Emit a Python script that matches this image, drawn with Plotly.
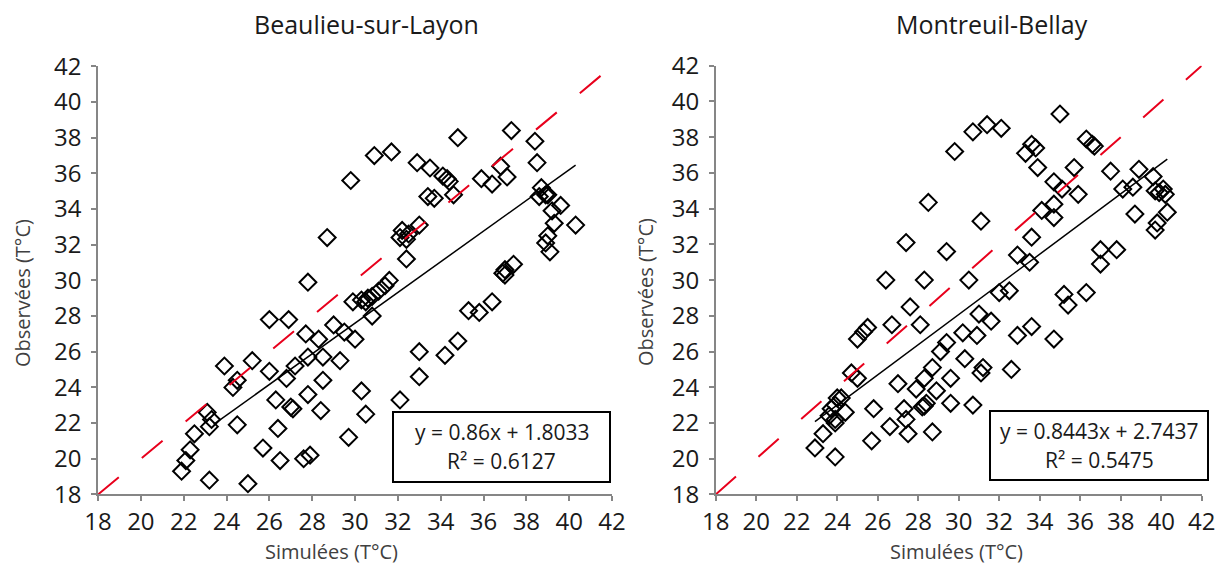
import plotly.graph_objects as go

# Beaulieu-sur-Layon: simulated (x) vs observed (y), deg C
beaulieu_sim = [
    21.9, 22.1, 22.3, 22.5, 23.1, 23.3, 23.2, 23.2, 23.9, 24.3, 24.5, 24.5,
    25.0, 25.2, 25.7, 26.0, 26.0, 26.3, 26.4, 26.5, 26.8, 26.9, 27.0, 27.1,
    27.2, 27.6, 27.9, 27.7, 27.8, 27.8, 27.8, 28.3, 28.4, 28.5, 28.5, 28.7,
    29.0, 29.3, 29.5, 29.7, 29.8, 29.9, 30.0, 30.3, 30.3, 30.5, 30.6, 30.8,
    30.5, 30.8, 30.9, 31.1, 31.4, 31.6, 31.7, 32.1, 32.1, 32.2, 32.4, 32.5,
    32.4, 32.9, 33.0, 33.0, 33.0, 33.4, 33.5, 33.7, 34.2, 34.1, 34.3, 34.4,
    34.6, 34.8, 34.8, 35.3, 35.8, 35.9, 36.4, 36.4, 36.8, 36.9, 37.0, 37.0,
    37.1, 37.3, 37.4, 38.4, 38.5, 38.6, 38.7, 38.9, 39.0, 39.0, 38.9, 39.1,
    39.2, 39.3, 39.6, 40.3,
]
beaulieu_obs = [
    19.3, 19.9, 20.5, 21.4, 22.6, 22.2, 21.8, 18.8, 25.2, 24.0, 24.4, 21.9,
    18.6, 25.5, 20.6, 27.8, 24.9, 23.3, 21.7, 19.9, 24.5, 27.8, 22.9, 22.8,
    25.2, 20.0, 20.2, 27.0, 29.9, 25.7, 23.6, 26.7, 22.7, 25.7, 24.4, 32.4,
    27.5, 25.5, 27.1, 21.2, 35.6, 28.8, 26.7, 23.8, 28.9, 28.8, 29.0, 29.1,
    22.5, 28.0, 37.0, 29.4, 29.7, 30.0, 37.2, 23.3, 32.4, 32.8, 31.2, 32.6,
    32.3, 36.6, 24.6, 26.0, 33.1, 34.7, 36.3, 34.6, 25.8, 35.85, 35.7, 35.55,
    34.8, 38.0, 26.6, 28.3, 28.2, 35.7, 35.4, 28.8, 36.4, 30.4, 30.3, 30.6,
    35.8, 38.4, 30.9, 37.8, 36.6, 34.7, 35.2, 34.8, 34.8, 32.5, 32.1, 31.6,
    33.9, 33.2, 34.2, 33.1,
]

# Montreuil-Bellay
montreuil_sim = [
    22.9, 23.3, 23.9, 23.6, 23.7, 23.9, 24.0, 24.2, 23.9, 24.4, 23.9, 24.7,
    25.0, 25.0, 25.3, 25.5, 25.7, 25.8, 26.4, 26.6, 26.7, 27.0, 27.3, 27.4,
    27.5, 27.4, 27.6, 27.9, 28.1, 28.3, 28.2, 28.4, 28.3, 28.3, 28.5, 28.7,
    28.7, 28.9, 29.1, 29.4, 29.4, 29.6, 29.6, 29.8, 30.2, 30.3, 30.5, 30.7,
    30.7, 30.9, 31.1, 31.2, 31.1, 31.0, 31.4, 31.6, 32.0, 32.1, 32.5, 32.6,
    32.9, 32.9, 33.3, 33.6, 33.8, 33.5, 33.6, 33.6, 33.9, 34.1, 34.7, 34.7,
    34.7, 34.7, 35.0, 35.1, 35.2, 35.4, 35.7, 35.9, 36.3, 36.6, 36.7, 36.3,
    37.0, 37.0, 37.5, 37.8, 38.1, 38.6, 38.7, 38.9, 39.6, 39.7, 39.7, 39.8,
    40.1, 40.2, 40.3, 39.9,
]
montreuil_obs = [
    20.6, 21.4, 20.1, 22.4, 22.8, 23.0, 23.4, 23.4, 22.2, 22.6, 22.0, 24.8,
    24.5, 26.7, 27.1, 27.35, 21.0, 22.8, 30.0, 21.8, 27.5, 24.2, 22.8, 22.2,
    21.4, 32.1, 28.5, 23.9, 27.5, 30.0, 22.9, 23.1, 22.95, 24.5, 34.35, 25.1,
    21.5, 23.8, 26.0, 26.5, 31.6, 23.1, 24.5, 37.2, 27.05, 25.6, 30.0, 23.0,
    38.3, 26.9, 24.8, 25.1, 33.3, 28.1, 38.7, 27.7, 29.3, 38.5, 29.4, 25.0,
    31.4, 26.9, 37.1, 37.6, 37.4, 31.0, 32.4, 27.4, 36.3, 33.9, 35.5, 34.25,
    33.5, 26.7, 39.3, 35.1, 29.2, 28.6, 36.3, 34.8, 37.9, 37.6, 37.5, 29.3,
    31.7, 30.9, 36.1, 31.7, 35.1, 35.2, 33.7, 36.2, 35.8, 35.0, 32.8, 33.2,
    35.1, 34.8, 33.8, 34.9,
]

# Excel linear trendlines (as printed on the chart)
beaulieu_fit = (0.86, 1.8033, 0.6127)
montreuil_fit = (0.8443, 2.7437, 0.5475)
beaulieu_fit_x = [23.4, 40.3]
montreuil_fit_x = [22.9, 40.3]
one_to_one = [18, 42]

ticks = list(range(18, 43, 2))

fig = go.Figure()

panels = [
    ("x", "y", beaulieu_sim, beaulieu_obs, beaulieu_fit, beaulieu_fit_x),
    ("x2", "y2", montreuil_sim, montreuil_obs, montreuil_fit, montreuil_fit_x),
]
for xa, ya, sim, obs, fit, fit_x in panels:
    fig.add_trace(go.Scatter(
        x=sim, y=obs, xaxis=xa, yaxis=ya, mode="markers",
        marker={"symbol": "diamond-open", "size": 13, "color": "black",
                "line": {"width": 2, "color": "black"}},
        showlegend=False,
    ))
    slope, intercept, _ = fit
    fig.add_trace(go.Scatter(
        x=fit_x, y=[slope * v + intercept for v in fit_x],
        xaxis=xa, yaxis=ya, mode="lines",
        line={"color": "black", "width": 1.5}, showlegend=False,
    ))
    fig.add_trace(go.Scatter(
        x=one_to_one, y=one_to_one, xaxis=xa, yaxis=ya, mode="lines",
        line={"color": "#e8001c", "width": 2, "dash": "27px,30px"},
        showlegend=False,
    ))

axis_style = dict(
    range=[18, 42], tickvals=ticks, showgrid=False, zeroline=False,
    showline=True, linecolor="#868686", linewidth=1.5, automargin=False,
    ticks="outside", ticklen=5, tickcolor="#868686", tickwidth=1.5,
    tickfont={"family": "Open Sans", "size": 24, "color": "#1a1a1a"},
)

fig.update_layout(
    width=1227, height=567,
    margin={"l": 0, "r": 0, "t": 0, "b": 0},
    paper_bgcolor="white", plot_bgcolor="white",
    font={"family": "Open Sans"},
    xaxis={**axis_style, "domain": [0.0799, 0.4988], "anchor": "y"},
    yaxis={**axis_style, "domain": [0.128, 0.883], "anchor": "x",
           "ticklabelstandoff": 5},
    xaxis2={**axis_style, "domain": [0.5833, 0.9794], "anchor": "y2"},
    yaxis2={**axis_style, "domain": [0.128, 0.884], "anchor": "x2",
            "ticklabelstandoff": 5},
)

def label(text, x, y, size, color="#1a1a1a", angle=0):
    fig.add_annotation(
        text=text, x=x / 1227, y=1 - y / 567, xref="paper", yref="paper",
        showarrow=False, textangle=angle, xanchor="center", yanchor="middle",
        font={"family": "Open Sans", "size": size, "color": color},
    )

label("Beaulieu-sur-Layon", 366, 24, 25)
label("Montreuil-Bellay", 992, 24, 25)
label("Simulées (T°C)", 331, 551, 20, "#404040")
label("Simulées (T°C)", 956, 551, 20, "#404040")
label("Observées (T°C)", 22, 293, 20, "#404040", -90)
label("Observées (T°C)", 645, 292, 20, "#404040", -90)

boxes = [
    (beaulieu_fit, 393, 412, 610, 482),
    (montreuil_fit, 990, 411, 1208, 480),
]
for fit, x0, y0, x1, y1 in boxes:
    fig.add_shape(
        type="rect", xref="paper", yref="paper",
        x0=x0 / 1227, x1=x1 / 1227, y0=1 - y0 / 567, y1=1 - y1 / 567,
        line={"color": "black", "width": 2}, fillcolor="white",
    )
    slope, intercept, r2 = fit
    cx = (x0 + x1) / 2
    label(f"y = {slope:g}x + {intercept:g}", cx, y0 + 20, 21)
    label(f"R² = {r2:g}", cx, y0 + 49, 21)

# drop the default page margin so the figure sits at the window's corner
fig.write_html(
    "out.html",
    config={"displayModeBar": False},
    post_script="document.body.style.margin='0';document.body.style.overflow='hidden';",
)
